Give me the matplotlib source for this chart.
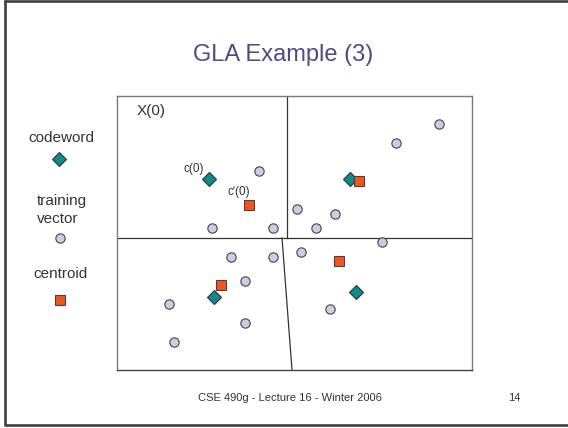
import matplotlib
matplotlib.use("Agg")
import matplotlib.pyplot as plt

plt.rcParams['font.family'] = ['Liberation Sans', 'DejaVu Sans']

# training vectors (x, y inside the X(0) box)
train_x = [322, 279, 142, 180, 218, 95, 156, 199, 265, 184, 114, 156, 128, 52, 213, 128, 57]
train_y = [246, 227, 199, 161, 156, 142, 142, 142, 128, 118, 113, 113, 89, 66, 61, 47, 28]

# codewords c(0)
code_x = [92, 233, 97, 239]
code_y = [191, 191, 73, 78]

# centroids c'(0)
cent_x = [132, 242, 222, 104]
cent_y = [165, 189, 109, 85]

# partition boundaries
part_lines = [
    ([170, 170], [132, 274]),
    ([0, 355], [132, 132]),
    ([165, 175], [132, 0]),
]

box_w, box_h = 355, 274

circle_style = dict(marker='o', ms=6.7, mfc='#CCCCE8', mec='#444444', mew=0.8, ls='none')
diamond_style = dict(marker='D', ms=7.0, mfc='#0E8A8C', mec='#333333', mew=0.8, ls='none')
square_style = dict(marker='s', ms=7.0, mfc='#F2561E', mec='#444444', mew=0.8, ls='none')

fig = plt.figure(figsize=(5.68, 4.28), dpi=100)

# slide background axes in pixel units
bg = fig.add_axes([0, 0, 1, 1])
bg.set_xlim(0, 568)
bg.set_ylim(428, 0)
bg.axis('off')

frame_c = '#404040'
bg.plot([4, 568], [1.2, 1.2], color=frame_c, lw=1.9, solid_capstyle='butt')
bg.plot([5, 5], [0, 425], color=frame_c, lw=1.9, solid_capstyle='butt')
bg.plot([4, 568], [424.5, 424.5], color=frame_c, lw=1.9, solid_capstyle='butt')

bg.text(283, 55, 'GLA Example (3)', fontsize=17, color='#4A4A8C', ha='center', va='center')

txt_c = '#333333'
bg.text(61, 138, 'codeword', fontsize=11, color=txt_c, ha='center', va='center')
bg.plot([59], [159], **diamond_style)
bg.text(37, 210, 'training\nvector', fontsize=11, color=txt_c, ha='left', va='center',
        multialignment='left', linespacing=1.35)
bg.plot([60], [237.5], **circle_style)
bg.text(60, 274, 'centroid', fontsize=11, color=txt_c, ha='center', va='center')
bg.plot([60], [300], **square_style)

bg.text(290, 398, 'CSE 490g - Lecture 16 - Winter 2006', fontsize=8, color=txt_c,
        ha='center', va='center')
bg.text(514, 398, '14', fontsize=8, color=txt_c, ha='center', va='center')

# the X(0) box
ax = fig.add_axes([117 / 568, (428 - 370) / 428, box_w / 568, box_h / 428])
ax.set_xlim(0, box_w)
ax.set_ylim(0, box_h)
ax.set_xticks([])
ax.set_yticks([])
ax.patch.set_alpha(0)
for s in ax.spines.values():
    s.set_color('#7A7A7A')
    s.set_linewidth(1.0)
ax.spines['bottom'].set_color('#444444')

for xs, ys in part_lines:
    ax.plot(xs, ys, color='#333333', lw=0.9)

ax.plot(train_x, train_y, **circle_style)
ax.plot(code_x, code_y, **diamond_style)
ax.plot(cent_x, cent_y, **square_style)

ax.text(34, 259, 'X(0)', fontsize=11, color=txt_c, ha='center', va='center')
ax.text(77, 201, 'c(0)', fontsize=8.5, color=txt_c, ha='center', va='center')
ax.text(122, 178, "c'(0)", fontsize=8.5, color=txt_c, ha='center', va='center')

fig.savefig('out.png', dpi=100)
